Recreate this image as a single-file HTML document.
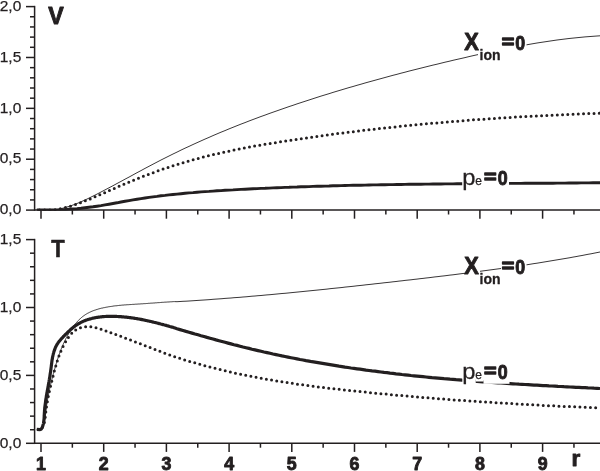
<!DOCTYPE html>
<html><head><meta charset="utf-8"><title>V and T versus r</title>
<style>
html,body{margin:0;padding:0;background:#fff;}
svg{display:block;}
text{font-family:"Liberation Sans",sans-serif;fill:#231f20;}
.b{font-weight:bold;stroke:#231f20;stroke-width:0.9px;stroke-linejoin:round;}
.r{stroke:#231f20;stroke-width:0.25px;}
</style></head><body>
<svg width="600" height="471" viewBox="0 0 600 471">
<rect width="600" height="471" fill="#fff"/>
<defs><clipPath id="ct"><rect x="34" y="0" width="566" height="210.85"/></clipPath></defs>
<g fill="none" stroke="#231f20" stroke-linejoin="round" clip-path="url(#ct)">
<path d="M36.8,210.0 L41.0,210.0 L45.0,210.0 L49.0,210.0 L53.0,210.0 L57.0,209.5 L61.0,208.7 L65.0,207.6 L69.0,206.4 L73.0,205.0 L77.0,203.5 L81.0,201.8 L85.0,200.0 L89.0,198.1 L93.0,196.1 L97.0,194.1 L101.0,192.0 L105.0,189.9 L109.0,187.8 L113.0,185.7 L117.0,183.5 L121.0,181.4 L125.0,179.2 L129.0,177.1 L133.0,174.9 L137.0,172.7 L141.0,170.6 L145.0,168.4 L149.0,166.3 L153.0,164.2 L157.0,162.1 L161.0,160.0 L165.0,158.0 L169.0,156.0 L173.0,154.0 L177.0,152.1 L181.0,150.1 L185.0,148.2 L189.0,146.4 L193.0,144.5 L197.0,142.7 L201.0,140.9 L205.0,139.1 L209.0,137.4 L213.0,135.6 L217.0,133.9 L221.0,132.2 L225.0,130.6 L229.0,128.9 L233.0,127.3 L237.0,125.7 L241.0,124.1 L245.0,122.6 L249.0,121.0 L253.0,119.5 L257.0,118.0 L261.0,116.5 L265.0,115.1 L269.0,113.6 L273.0,112.2 L277.0,110.8 L281.0,109.4 L285.0,108.0 L289.0,106.6 L293.0,105.3 L297.0,103.9 L301.0,102.6 L305.0,101.3 L309.0,100.0 L313.0,98.7 L317.0,97.4 L321.0,96.1 L325.0,94.9 L329.0,93.7 L333.0,92.4 L337.0,91.2 L341.0,90.0 L345.0,88.8 L349.0,87.6 L353.0,86.5 L357.0,85.3 L361.0,84.2 L365.0,83.0 L369.0,81.9 L373.0,80.8 L377.0,79.7 L381.0,78.6 L385.0,77.5 L389.0,76.4 L393.0,75.3 L397.0,74.3 L401.0,73.2 L405.0,72.2 L409.0,71.1 L413.0,70.1 L417.0,69.1 L421.0,68.1 L425.0,67.1 L429.0,66.1 L433.0,65.1 L437.0,64.2 L441.0,63.2 L445.0,62.2 L449.0,61.3 L453.0,60.3 L457.0,59.4 L461.0,58.5 L465.0,57.6 L469.0,56.6 L473.0,55.7 L477.0,54.8 L481.0,54.0 L485.0,53.1 L489.0,52.2 L493.0,51.4 L497.0,50.5 L501.0,49.7 L505.0,48.9 L509.0,48.1 L513.0,47.3 L517.0,46.6 L521.0,45.8 L525.0,45.1 L529.0,44.4 L533.0,43.7 L537.0,43.0 L541.0,42.4 L545.0,41.8 L549.0,41.2 L553.0,40.6 L557.0,40.0 L561.0,39.5 L565.0,39.0 L569.0,38.5 L573.0,38.1 L577.0,37.7 L581.0,37.3 L585.0,36.9 L589.0,36.6 L593.0,36.3 L597.0,36.0 L600.0,35.8" stroke-width="0.9"/>
<path d="M36.8,210.0 L41.0,209.9 L45.0,210.0 L49.0,210.0 L53.0,210.0 L57.0,209.9 L61.0,209.8 L65.0,209.6 L69.0,209.3 L73.0,209.0 L77.0,208.7 L81.0,208.3 L85.0,207.8 L89.0,207.3 L93.0,206.8 L97.0,206.2 L101.0,205.6 L105.0,204.9 L109.0,204.2 L113.0,203.5 L117.0,202.8 L121.0,202.0 L125.0,201.3 L129.0,200.6 L133.0,199.9 L137.0,199.2 L141.0,198.6 L145.0,198.0 L149.0,197.4 L153.0,196.9 L157.0,196.4 L161.0,195.8 L165.0,195.4 L169.0,194.9 L173.0,194.5 L177.0,194.1 L181.0,193.7 L185.0,193.3 L189.0,192.9 L193.0,192.6 L197.0,192.2 L201.0,191.9 L205.0,191.6 L209.0,191.4 L213.0,191.1 L217.0,190.8 L221.0,190.6 L225.0,190.3 L229.0,190.1 L233.0,189.9 L237.0,189.6 L241.0,189.4 L245.0,189.2 L249.0,189.0 L253.0,188.8 L257.0,188.6 L261.0,188.4 L265.0,188.3 L269.0,188.1 L273.0,187.9 L277.0,187.7 L281.0,187.6 L285.0,187.4 L289.0,187.3 L293.0,187.1 L297.0,187.0 L301.0,186.8 L305.0,186.7 L309.0,186.6 L313.0,186.4 L317.0,186.3 L321.0,186.2 L325.0,186.1 L329.0,186.0 L333.0,185.8 L337.0,185.7 L341.0,185.6 L345.0,185.5 L349.0,185.4 L353.0,185.3 L357.0,185.3 L361.0,185.2 L365.0,185.1 L369.0,185.0 L373.0,184.9 L377.0,184.9 L381.0,184.8 L385.0,184.7 L389.0,184.6 L393.0,184.6 L397.0,184.5 L401.0,184.5 L405.0,184.4 L409.0,184.3 L413.0,184.3 L417.0,184.2 L421.0,184.2 L425.0,184.1 L429.0,184.1 L433.0,184.0 L437.0,184.0 L441.0,184.0 L445.0,183.9 L449.0,183.9 L453.0,183.9 L457.0,183.8 L461.0,183.8 L465.0,183.7 L469.0,183.7 L473.0,183.7 L477.0,183.7 L481.0,183.6 L485.0,183.6 L489.0,183.6 L493.0,183.5 L497.0,183.5 L501.0,183.5 L505.0,183.5 L509.0,183.4 L513.0,183.4 L517.0,183.4 L521.0,183.4 L525.0,183.3 L529.0,183.3 L533.0,183.3 L537.0,183.3 L541.0,183.2 L545.0,183.2 L549.0,183.2 L553.0,183.2 L557.0,183.1 L561.0,183.1 L565.0,183.1 L569.0,183.0 L573.0,183.0 L577.0,183.0 L581.0,182.9 L585.0,182.9 L589.0,182.9 L593.0,182.8 L597.0,182.8 L600.0,182.8" stroke-width="2.9"/>
<path d="M36.8,210.0 L41.0,210.0 L45.0,210.0 L49.0,210.0 L53.0,210.0 L57.0,209.4 L61.0,208.6 L65.0,207.7 L69.0,206.6 L73.0,205.4 L77.0,204.0 L81.0,202.6 L85.0,201.0 L89.0,199.4 L93.0,197.7 L97.0,196.0 L101.0,194.2 L105.0,192.5 L109.0,190.7 L113.0,189.0 L117.0,187.3 L121.0,185.5 L125.0,183.8 L129.0,182.2 L133.0,180.5 L137.0,178.9 L141.0,177.3 L145.0,175.7 L149.0,174.2 L153.0,172.7 L157.0,171.2 L161.0,169.8 L165.0,168.4 L169.0,167.1 L173.0,165.8 L177.0,164.5 L181.0,163.3 L185.0,162.1 L189.0,160.9 L193.0,159.8 L197.0,158.7 L201.0,157.7 L205.0,156.7 L209.0,155.7 L213.0,154.7 L217.0,153.8 L221.0,152.9 L225.0,152.0 L229.0,151.1 L233.0,150.3 L237.0,149.5 L241.0,148.7 L245.0,147.9 L249.0,147.2 L253.0,146.4 L257.0,145.7 L261.0,145.0 L265.0,144.3 L269.0,143.7 L273.0,143.0 L277.0,142.4 L281.0,141.7 L285.0,141.1 L289.0,140.5 L293.0,139.9 L297.0,139.3 L301.0,138.7 L305.0,138.1 L309.0,137.5 L313.0,137.0 L317.0,136.4 L321.0,135.9 L325.0,135.3 L329.0,134.8 L333.0,134.2 L337.0,133.7 L341.0,133.2 L345.0,132.7 L349.0,132.2 L353.0,131.7 L357.0,131.2 L361.0,130.7 L365.0,130.2 L369.0,129.8 L373.0,129.3 L377.0,128.9 L381.0,128.4 L385.0,128.0 L389.0,127.5 L393.0,127.1 L397.0,126.7 L401.0,126.3 L405.0,125.9 L409.0,125.5 L413.0,125.1 L417.0,124.7 L421.0,124.3 L425.0,123.9 L429.0,123.6 L433.0,123.2 L437.0,122.9 L441.0,122.5 L445.0,122.2 L449.0,121.8 L453.0,121.5 L457.0,121.2 L461.0,120.9 L465.0,120.5 L469.0,120.2 L473.0,119.9 L477.0,119.6 L481.0,119.3 L485.0,119.1 L489.0,118.8 L493.0,118.5 L497.0,118.2 L501.0,118.0 L505.0,117.7 L509.0,117.5 L513.0,117.2 L517.0,117.0 L521.0,116.8 L525.0,116.5 L529.0,116.3 L533.0,116.1 L537.0,115.9 L541.0,115.7 L545.0,115.5 L549.0,115.3 L553.0,115.1 L557.0,114.9 L561.0,114.7 L565.0,114.6 L569.0,114.4 L573.0,114.2 L577.0,114.1 L581.0,113.9 L585.0,113.7 L589.0,113.6 L593.0,113.5 L597.0,113.3 L600.0,113.2" stroke-width="3" stroke-linecap="round" stroke-dasharray="0 5.25" stroke-dashoffset="-2.64"/>
</g>
<g fill="none" stroke="#231f20" stroke-linejoin="round">
<path d="M36.8,429.4 L40.4,429.8 L40.9,429.3 L41.3,428.7 L41.7,428.1 L42.1,427.5 L42.4,426.8 L42.8,426.2 L43.1,425.5 L43.3,424.9 L43.6,424.2 L43.8,423.5 L44.0,422.7 L44.2,422.0 L44.4,421.3 L44.5,420.5 L44.7,419.8 L44.8,419.0 L45.0,418.2 L45.1,417.4 L45.2,416.6 L45.3,415.9 L45.4,415.1 L45.5,414.3 L45.6,413.5 L45.7,412.7 L45.8,411.9 L45.9,411.1 L46.0,410.3 L46.1,409.5 L46.2,408.7 L46.3,407.9 L46.4,407.2 L46.5,406.4 L46.6,405.6 L46.7,404.8 L46.8,404.0 L47.0,403.3 L47.1,402.5 L47.2,401.7 L47.4,400.9 L47.5,400.1 L47.6,399.4 L47.8,398.6 L47.9,397.8 L48.0,397.1 L48.2,396.3 L48.3,395.5 L48.5,394.8 L48.6,394.0 L48.8,393.2 L48.9,392.5 L49.1,391.7 L49.2,390.9 L49.4,390.2 L49.6,389.4 L49.7,388.6 L49.9,387.9 L50.1,387.1 L50.2,386.4 L50.4,385.6 L50.6,384.8 L50.8,384.1 L50.9,383.3 L51.1,382.6 L51.3,381.8 L51.5,381.1 L51.7,380.3 L51.9,379.6 L52.1,378.8 L52.2,378.0 L52.4,377.3 L52.6,376.5 L52.8,375.8 L53.0,375.0 L53.2,374.3 L53.4,373.5 L53.6,372.8 L53.8,372.0 L54.0,371.3 L54.2,370.5 L54.5,369.8 L54.7,369.0 L54.9,368.3 L55.1,367.5 L55.3,366.8 L55.5,366.0 L55.7,365.3 L56.0,364.5 L56.2,363.8 L56.4,363.1 L56.6,362.3 L56.9,361.6 L57.1,360.8 L57.3,360.1 L57.6,359.3 L57.8,358.6 L58.0,357.9 L58.3,357.1 L58.5,356.4 L58.8,355.6 L59.0,354.9 L59.3,354.2 L59.6,353.4 L59.8,352.7 L60.1,352.0 L60.4,351.2 L60.6,350.5 L60.9,349.8 L61.2,349.1 L61.5,348.3 L61.8,347.6 L62.1,346.9 L62.4,346.2 L62.7,345.5 L63.0,344.8 L63.3,344.0 L63.6,343.3 L64.0,342.6 L64.3,341.9 L64.6,341.2 L65.0,340.5 L65.3,339.8 L65.7,339.1 L66.0,338.4 L66.4,337.7 L66.7,337.0 L67.1,336.3 L67.5,335.7 L67.9,335.0 L68.3,334.3 L68.6,333.6 L69.0,332.9 L69.5,332.3 L69.9,331.6 L70.3,330.9 L70.7,330.3 L71.1,329.6 L71.6,328.9 L72.0,328.3 L72.5,327.6 L72.9,327.0 L73.4,326.4 L73.9,325.7 L74.4,325.1 L74.8,324.5 L75.3,323.9 L75.8,323.3 L76.4,322.7 L76.9,322.1 L77.4,321.5 L77.9,320.9 L78.5,320.4 L79.0,319.8 L79.6,319.3 L80.1,318.8 L80.7,318.2 L81.3,317.7 L81.9,317.2 L82.5,316.7 L83.1,316.3 L83.7,315.8 L84.3,315.4 L85.0,314.9 L85.6,314.5 L86.3,314.1 L86.9,313.7 L87.6,313.3 L88.3,313.0 L89.0,312.6 L89.6,312.3 L90.3,312.0 L91.0,311.6 L91.8,311.3 L92.5,311.0 L93.2,310.7 L93.9,310.5 L94.7,310.2 L95.4,310.0 L96.1,309.7 L96.9,309.5 L97.6,309.3 L98.4,309.0 L99.1,308.8 L99.9,308.6 L100.7,308.4 L101.4,308.2 L102.2,308.1 L103.0,307.9 L103.7,307.7 L104.5,307.6 L105.3,307.4 L106.1,307.3 L106.8,307.1 L107.6,307.0 L108.4,306.8 L109.2,306.7 L109.9,306.6 L110.7,306.5 L111.5,306.4 L112.3,306.3 L113.0,306.1 L113.8,306.0 L114.6,305.9 L115.4,305.8 L116.1,305.8 L116.9,305.7 L117.7,305.6 L118.5,305.5 L119.2,305.4 L120.0,305.3 L120.8,305.3 L121.5,305.2 L122.3,305.1 L123.1,305.1 L123.9,305.0 L124.6,304.9 L125.4,304.9 L126.2,304.8 L127.0,304.8 L127.7,304.7 L128.5,304.7 L129.3,304.6 L130.1,304.6 L130.9,304.5 L131.6,304.5 L132.4,304.4 L133.2,304.4 L134.0,304.3 L134.7,304.3 L135.5,304.2 L136.3,304.2 L137.1,304.1 L137.8,304.1 L138.6,304.0 L139.4,304.0 L140.2,303.9 L140.9,303.9 L141.7,303.8 L142.5,303.8 L143.3,303.7 L144.1,303.7 L144.8,303.6 L145.6,303.6 L146.4,303.5 L147.2,303.5 L147.9,303.4 L148.7,303.3 L149.5,303.3 L150.3,303.2 L151.1,303.2 L151.8,303.1 L152.6,303.1 L153.4,303.0 L154.2,303.0 L155.0,302.9 L155.7,302.8 L156.5,302.8 L157.3,302.7 L158.1,302.7 L158.9,302.6 L159.6,302.6 L160.4,302.5 L161.2,302.4 L162.0,302.4 L162.7,302.3 L163.5,302.3 L164.3,302.2 L165.1,302.2 L165.9,302.1 L166.6,302.1 L167.4,302.0 L168.2,302.0 L169.0,301.9 L169.8,301.9 L170.5,301.8 L171.3,301.8 L172.1,301.7 L172.9,301.7 L173.7,301.6 L174.4,301.6 L177.0,301.7 L180.0,301.5 L183.0,301.3 L186.0,301.2 L189.0,301.0 L192.0,300.8 L195.0,300.6 L198.0,300.4 L201.0,300.2 L204.0,300.0 L207.0,299.8 L210.0,299.6 L213.0,299.3 L216.0,299.1 L219.0,298.9 L222.0,298.7 L225.0,298.4 L228.0,298.2 L231.0,298.0 L234.0,297.7 L237.0,297.5 L240.0,297.3 L243.0,297.0 L246.0,296.8 L249.0,296.5 L252.0,296.2 L255.0,296.0 L258.0,295.7 L261.0,295.5 L264.0,295.2 L267.0,294.9 L270.0,294.7 L273.0,294.4 L276.0,294.1 L279.0,293.8 L282.0,293.5 L285.0,293.3 L288.0,293.0 L291.0,292.7 L294.0,292.4 L297.0,292.1 L300.0,291.8 L303.0,291.5 L306.0,291.2 L309.0,290.9 L312.0,290.6 L315.0,290.3 L318.0,290.0 L321.0,289.7 L324.0,289.4 L327.0,289.1 L330.0,288.7 L333.0,288.4 L336.0,288.1 L339.0,287.8 L342.0,287.5 L345.0,287.1 L348.0,286.8 L351.0,286.5 L354.0,286.2 L357.0,285.8 L360.0,285.5 L363.0,285.2 L366.0,284.8 L369.0,284.5 L372.0,284.2 L375.0,283.8 L378.0,283.5 L381.0,283.2 L384.0,282.8 L387.0,282.5 L390.0,282.2 L393.0,281.8 L396.0,281.5 L399.0,281.1 L402.0,280.8 L405.0,280.4 L408.0,280.1 L411.0,279.8 L414.0,279.4 L417.0,279.1 L420.0,278.7 L423.0,278.4 L426.0,278.0 L429.0,277.7 L432.0,277.3 L435.0,276.9 L438.0,276.6 L441.0,276.2 L444.0,275.9 L447.0,275.5 L450.0,275.1 L453.0,274.8 L456.0,274.4 L459.0,274.0 L462.0,273.6 L465.0,273.3 L468.0,272.9 L471.0,272.5 L474.0,272.1 L477.0,271.7 L480.0,271.3 L483.0,270.9 L486.0,270.5 L489.0,270.1 L492.0,269.7 L495.0,269.3 L498.0,268.9 L501.0,268.5 L504.0,268.1 L507.0,267.6 L510.0,267.2 L513.0,266.8 L516.0,266.3 L519.0,265.9 L522.0,265.5 L525.0,265.0 L528.0,264.6 L531.0,264.1 L534.0,263.6 L537.0,263.2 L540.0,262.7 L543.0,262.2 L546.0,261.7 L549.0,261.2 L552.0,260.7 L555.0,260.2 L558.0,259.7 L561.0,259.2 L564.0,258.7 L567.0,258.2 L570.0,257.7 L573.0,257.1 L576.0,256.6 L579.0,256.0 L582.0,255.5 L585.0,254.9 L588.0,254.3 L591.0,253.8 L594.0,253.2 L597.0,252.6 L600.0,252.0" stroke-width="0.9"/>
<path d="M36.8,429.4 L40.1,429.6 L40.9,429.3 L41.4,428.8 L41.8,428.2 L42.2,427.6 L42.4,426.9 L42.7,426.2 L42.9,425.5 L43.1,424.8 L43.3,424.1 L43.5,423.3 L43.6,422.6 L43.7,421.8 L43.8,421.0 L43.9,420.3 L44.0,419.5 L44.1,418.7 L44.1,417.9 L44.2,417.1 L44.2,416.3 L44.2,415.5 L44.3,414.7 L44.3,413.9 L44.4,413.1 L44.4,412.3 L44.5,411.5 L44.5,410.7 L44.6,409.9 L44.7,409.1 L44.7,408.3 L44.8,407.5 L44.9,406.7 L45.0,406.0 L45.1,405.2 L45.2,404.4 L45.3,403.6 L45.4,402.9 L45.5,402.1 L45.6,401.3 L45.7,400.6 L45.8,399.8 L45.9,399.0 L46.1,398.3 L46.2,397.5 L46.3,396.8 L46.4,396.0 L46.5,395.2 L46.7,394.5 L46.8,393.7 L46.9,393.0 L47.1,392.2 L47.2,391.5 L47.3,390.7 L47.5,390.0 L47.6,389.2 L47.8,388.4 L47.9,387.7 L48.0,386.9 L48.2,386.2 L48.3,385.4 L48.4,384.7 L48.6,383.9 L48.7,383.1 L48.8,382.4 L49.0,381.6 L49.1,380.9 L49.2,380.1 L49.4,379.3 L49.5,378.6 L49.6,377.8 L49.8,377.0 L49.9,376.3 L50.0,375.5 L50.1,374.7 L50.2,373.9 L50.3,373.2 L50.5,372.4 L50.6,371.6 L50.7,370.8 L50.8,370.0 L50.9,369.2 L51.0,368.4 L51.1,367.6 L51.2,366.9 L51.3,366.1 L51.4,365.3 L51.5,364.5 L51.6,363.7 L51.7,362.9 L51.8,362.1 L51.9,361.3 L52.0,360.5 L52.1,359.7 L52.3,359.0 L52.4,358.2 L52.5,357.4 L52.7,356.6 L52.9,355.9 L53.0,355.1 L53.2,354.4 L53.4,353.6 L53.6,352.9 L53.8,352.1 L54.0,351.4 L54.3,350.7 L54.5,350.0 L54.8,349.3 L55.0,348.5 L55.3,347.9 L55.6,347.2 L55.9,346.5 L56.3,345.8 L56.6,345.2 L57.0,344.5 L57.4,343.9 L57.8,343.3 L58.2,342.6 L58.7,342.0 L59.1,341.4 L59.6,340.8 L60.1,340.3 L60.6,339.7 L61.1,339.1 L61.6,338.5 L62.2,338.0 L62.7,337.4 L63.2,336.8 L63.8,336.3 L64.3,335.7 L64.9,335.1 L65.5,334.6 L66.0,334.0 L66.6,333.5 L67.2,332.9 L67.7,332.3 L68.3,331.8 L68.9,331.2 L69.5,330.7 L70.1,330.1 L70.7,329.6 L71.3,329.1 L71.9,328.5 L72.5,328.0 L73.1,327.5 L73.7,327.0 L74.3,326.5 L75.0,326.1 L75.6,325.6 L76.3,325.2 L76.9,324.7 L77.6,324.3 L78.2,323.9 L78.9,323.5 L79.6,323.2 L80.2,322.8 L80.9,322.4 L81.6,322.1 L82.3,321.8 L83.0,321.4 L83.7,321.1 L84.4,320.8 L85.1,320.6 L85.8,320.3 L86.5,320.0 L87.3,319.8 L88.0,319.5 L88.7,319.3 L89.5,319.1 L90.2,318.9 L90.9,318.7 L91.7,318.5 L92.4,318.3 L93.2,318.1 L93.9,318.0 L94.7,317.8 L95.4,317.7 L96.2,317.5 L97.0,317.4 L97.7,317.3 L98.5,317.2 L99.3,317.1 L100.0,317.0 L100.8,316.9 L101.6,316.8 L102.4,316.7 L103.1,316.6 L103.9,316.6 L104.7,316.5 L105.5,316.5 L106.3,316.4 L107.1,316.4 L107.8,316.4 L108.6,316.4 L109.4,316.3 L110.2,316.3 L111.0,316.3 L111.8,316.3 L112.5,316.3 L113.3,316.4 L114.1,316.4 L114.9,316.4 L115.7,316.4 L116.5,316.4 L117.2,316.5 L118.0,316.5 L118.8,316.6 L119.6,316.6 L120.4,316.7 L121.1,316.7 L121.9,316.8 L122.7,316.8 L123.5,316.9 L124.2,317.0 L125.0,317.1 L125.8,317.1 L126.6,317.2 L127.3,317.3 L128.1,317.4 L128.9,317.5 L129.6,317.6 L130.4,317.7 L131.2,317.8 L132.0,317.9 L132.7,318.0 L133.5,318.1 L134.3,318.2 L135.0,318.4 L135.8,318.5 L136.6,318.6 L137.3,318.7 L138.1,318.9 L138.8,319.0 L139.6,319.1 L140.4,319.3 L141.1,319.4 L141.9,319.6 L142.7,319.7 L143.4,319.9 L144.2,320.0 L144.9,320.2 L145.7,320.4 L146.5,320.5 L147.2,320.7 L148.0,320.9 L148.7,321.0 L149.5,321.2 L150.3,321.4 L151.0,321.5 L151.8,321.7 L152.5,321.9 L153.3,322.1 L154.0,322.3 L154.8,322.5 L155.6,322.6 L156.3,322.8 L157.1,323.0 L157.8,323.2 L158.6,323.4 L159.3,323.6 L160.1,323.8 L160.8,324.0 L161.6,324.2 L162.3,324.4 L163.1,324.6 L163.8,324.8 L164.6,325.0 L165.3,325.2 L166.1,325.4 L166.8,325.6 L167.6,325.8 L168.3,326.1 L169.1,326.3 L169.8,326.5 L170.6,326.7 L171.3,326.9 L172.1,327.1 L172.8,327.3 L173.6,327.6 L174.3,327.8 L177.0,328.7 L180.0,329.6 L183.0,330.5 L186.0,331.4 L189.0,332.2 L192.0,333.1 L195.0,334.0 L198.0,334.8 L201.0,335.7 L204.0,336.5 L207.0,337.4 L210.0,338.2 L213.0,339.0 L216.0,339.9 L219.0,340.7 L222.0,341.5 L225.0,342.3 L228.0,343.1 L231.0,343.9 L234.0,344.7 L237.0,345.4 L240.0,346.2 L243.0,347.0 L246.0,347.7 L249.0,348.4 L252.0,349.2 L255.0,349.9 L258.0,350.6 L261.0,351.3 L264.0,352.0 L267.0,352.6 L270.0,353.3 L273.0,354.0 L276.0,354.6 L279.0,355.2 L282.0,355.9 L285.0,356.5 L288.0,357.1 L291.0,357.7 L294.0,358.3 L297.0,358.9 L300.0,359.5 L303.0,360.0 L306.0,360.6 L309.0,361.1 L312.0,361.7 L315.0,362.2 L318.0,362.7 L321.0,363.2 L324.0,363.7 L327.0,364.2 L330.0,364.7 L333.0,365.2 L336.0,365.7 L339.0,366.2 L342.0,366.6 L345.0,367.1 L348.0,367.5 L351.0,368.0 L354.0,368.4 L357.0,368.8 L360.0,369.2 L363.0,369.6 L366.0,370.1 L369.0,370.5 L372.0,370.9 L375.0,371.2 L378.0,371.6 L381.0,372.0 L384.0,372.4 L387.0,372.7 L390.0,373.1 L393.0,373.4 L396.0,373.8 L399.0,374.1 L402.0,374.5 L405.0,374.8 L408.0,375.1 L411.0,375.5 L414.0,375.8 L417.0,376.1 L420.0,376.4 L423.0,376.7 L426.0,377.0 L429.0,377.3 L432.0,377.6 L435.0,377.8 L438.0,378.1 L441.0,378.4 L444.0,378.7 L447.0,378.9 L450.0,379.2 L453.0,379.4 L456.0,379.7 L459.0,379.9 L462.0,380.2 L465.0,380.4 L468.0,380.7 L471.0,380.9 L474.0,381.1 L477.0,381.3 L480.0,381.6 L483.0,381.8 L486.0,382.0 L489.0,382.2 L492.0,382.4 L495.0,382.6 L498.0,382.8 L501.0,383.0 L504.0,383.2 L507.0,383.4 L510.0,383.6 L513.0,383.8 L516.0,384.0 L519.0,384.2 L522.0,384.3 L525.0,384.5 L528.0,384.7 L531.0,384.9 L534.0,385.1 L537.0,385.2 L540.0,385.4 L543.0,385.6 L546.0,385.7 L549.0,385.9 L552.0,386.0 L555.0,386.2 L558.0,386.4 L561.0,386.5 L564.0,386.7 L567.0,386.8 L570.0,387.0 L573.0,387.1 L576.0,387.3 L579.0,387.4 L582.0,387.6 L585.0,387.7 L588.0,387.9 L591.0,388.0 L594.0,388.2 L597.0,388.3 L600.0,388.5" stroke-width="3.2"/>
<path d="M36.8,429.4 L40.3,429.7 L40.8,429.3 L41.3,428.7 L41.8,428.2 L42.2,427.6 L42.5,427.0 L42.9,426.4 L43.2,425.7 L43.5,425.1 L43.7,424.4 L44.0,423.7 L44.2,423.0 L44.4,422.3 L44.6,421.5 L44.7,420.8 L44.9,420.0 L45.0,419.3 L45.1,418.5 L45.2,417.7 L45.3,417.0 L45.4,416.2 L45.5,415.4 L45.6,414.6 L45.7,413.8 L45.8,413.0 L45.8,412.2 L45.9,411.5 L46.0,410.7 L46.1,409.9 L46.2,409.1 L46.3,408.3 L46.4,407.6 L46.5,406.8 L46.7,406.0 L46.8,405.2 L46.9,404.5 L47.0,403.7 L47.1,402.9 L47.3,402.2 L47.4,401.4 L47.5,400.7 L47.7,399.9 L47.8,399.2 L47.9,398.4 L48.1,397.6 L48.2,396.9 L48.4,396.1 L48.5,395.4 L48.7,394.6 L48.9,393.9 L49.0,393.1 L49.2,392.4 L49.3,391.7 L49.5,390.9 L49.7,390.2 L49.8,389.4 L50.0,388.7 L50.2,387.9 L50.3,387.2 L50.5,386.5 L50.7,385.7 L50.9,385.0 L51.1,384.2 L51.2,383.5 L51.4,382.8 L51.6,382.0 L51.8,381.3 L52.0,380.5 L52.1,379.8 L52.3,379.0 L52.5,378.3 L52.7,377.6 L52.9,376.8 L53.1,376.1 L53.3,375.3 L53.5,374.6 L53.7,373.9 L53.8,373.1 L54.0,372.4 L54.2,371.6 L54.4,370.9 L54.6,370.1 L54.8,369.4 L55.0,368.7 L55.2,367.9 L55.4,367.2 L55.7,366.4 L55.9,365.7 L56.1,365.0 L56.3,364.2 L56.5,363.5 L56.7,362.8 L57.0,362.0 L57.2,361.3 L57.4,360.6 L57.7,359.8 L57.9,359.1 L58.2,358.4 L58.4,357.6 L58.7,356.9 L58.9,356.2 L59.2,355.5 L59.5,354.8 L59.7,354.0 L60.0,353.3 L60.3,352.6 L60.6,351.9 L60.9,351.2 L61.2,350.5 L61.5,349.8 L61.8,349.1 L62.1,348.4 L62.4,347.7 L62.8,347.0 L63.1,346.3 L63.5,345.6 L63.8,345.0 L64.2,344.3 L64.5,343.6 L64.9,342.9 L65.3,342.3 L65.7,341.6 L66.1,340.9 L66.5,340.3 L66.9,339.6 L67.3,339.0 L67.7,338.3 L68.2,337.7 L68.6,337.1 L69.1,336.4 L69.6,335.8 L70.0,335.2 L70.5,334.6 L71.0,334.0 L71.5,333.5 L72.1,332.9 L72.6,332.4 L73.2,331.9 L73.8,331.4 L74.3,330.9 L75.0,330.4 L75.6,330.0 L76.2,329.6 L76.9,329.2 L77.6,328.9 L78.3,328.6 L79.0,328.3 L79.7,328.0 L80.4,327.8 L81.2,327.6 L81.9,327.4 L82.7,327.2 L83.4,327.1 L84.2,326.9 L85.0,326.9 L85.8,326.8 L86.5,326.7 L87.3,326.7 L88.1,326.7 L88.8,326.7 L89.6,326.7 L90.3,326.8 L91.1,326.9 L91.9,327.0 L92.6,327.1 L93.4,327.2 L94.1,327.3 L94.8,327.5 L95.6,327.6 L96.3,327.8 L97.1,328.0 L97.8,328.2 L98.5,328.4 L99.3,328.6 L100.0,328.8 L100.7,329.0 L101.5,329.3 L102.2,329.5 L102.9,329.8 L103.7,330.0 L104.4,330.3 L105.1,330.6 L105.8,330.8 L106.6,331.1 L107.3,331.3 L108.0,331.6 L108.7,331.9 L109.5,332.1 L110.2,332.4 L110.9,332.7 L111.6,332.9 L112.3,333.2 L113.1,333.5 L113.8,333.7 L114.5,334.0 L115.2,334.3 L115.9,334.6 L116.7,334.8 L117.4,335.1 L118.1,335.4 L118.8,335.6 L119.5,335.9 L120.3,336.2 L121.0,336.4 L121.7,336.7 L122.4,337.0 L123.1,337.3 L123.8,337.5 L124.6,337.8 L125.3,338.1 L126.0,338.4 L126.7,338.6 L127.4,338.9 L128.1,339.2 L128.9,339.5 L129.6,339.7 L130.3,340.0 L131.0,340.3 L131.7,340.5 L132.4,340.8 L133.2,341.1 L133.9,341.4 L134.6,341.6 L135.3,341.9 L136.0,342.2 L136.7,342.5 L137.4,342.7 L138.2,343.0 L138.9,343.3 L139.6,343.6 L140.3,343.8 L141.0,344.1 L141.7,344.4 L142.5,344.7 L143.2,344.9 L143.9,345.2 L144.6,345.5 L145.3,345.8 L146.0,346.0 L146.7,346.3 L147.5,346.6 L148.2,346.9 L148.9,347.1 L149.6,347.4 L150.3,347.7 L151.0,348.0 L151.7,348.2 L152.5,348.5 L153.2,348.8 L153.9,349.0 L154.6,349.3 L155.3,349.6 L156.0,349.9 L156.8,350.1 L157.5,350.4 L158.2,350.7 L158.9,350.9 L159.6,351.2 L160.3,351.5 L161.1,351.7 L161.8,352.0 L162.5,352.3 L163.2,352.5 L163.9,352.8 L164.6,353.1 L165.4,353.3 L166.1,353.6 L166.8,353.9 L167.5,354.1 L168.2,354.4 L169.0,354.7 L169.7,354.9 L170.4,355.2 L171.1,355.4 L171.8,355.7 L172.6,356.0 L173.3,356.2 L174.0,356.5 L174.7,356.7 L177.0,357.4 L180.0,358.4 L183.0,359.4 L186.0,360.3 L189.0,361.2 L192.0,362.1 L195.0,362.9 L198.0,363.8 L201.0,364.6 L204.0,365.5 L207.0,366.3 L210.0,367.1 L213.0,367.8 L216.0,368.6 L219.0,369.3 L222.0,370.1 L225.0,370.8 L228.0,371.5 L231.0,372.1 L234.0,372.8 L237.0,373.5 L240.0,374.1 L243.0,374.7 L246.0,375.4 L249.0,376.0 L252.0,376.5 L255.0,377.1 L258.0,377.7 L261.0,378.2 L264.0,378.8 L267.0,379.3 L270.0,379.8 L273.0,380.3 L276.0,380.8 L279.0,381.3 L282.0,381.8 L285.0,382.3 L288.0,382.7 L291.0,383.2 L294.0,383.6 L297.0,384.1 L300.0,384.5 L303.0,384.9 L306.0,385.3 L309.0,385.7 L312.0,386.1 L315.0,386.5 L318.0,386.9 L321.0,387.2 L324.0,387.6 L327.0,388.0 L330.0,388.3 L333.0,388.7 L336.0,389.0 L339.0,389.3 L342.0,389.7 L345.0,390.0 L348.0,390.3 L351.0,390.6 L354.0,391.0 L357.0,391.3 L360.0,391.6 L363.0,391.9 L366.0,392.2 L369.0,392.5 L372.0,392.8 L375.0,393.1 L378.0,393.4 L381.0,393.7 L384.0,393.9 L387.0,394.2 L390.0,394.5 L393.0,394.8 L396.0,395.1 L399.0,395.3 L402.0,395.6 L405.0,395.9 L408.0,396.1 L411.0,396.4 L414.0,396.7 L417.0,396.9 L420.0,397.2 L423.0,397.4 L426.0,397.7 L429.0,397.9 L432.0,398.1 L435.0,398.4 L438.0,398.6 L441.0,398.8 L444.0,399.1 L447.0,399.3 L450.0,399.5 L453.0,399.8 L456.0,400.0 L459.0,400.2 L462.0,400.4 L465.0,400.6 L468.0,400.8 L471.0,401.0 L474.0,401.3 L477.0,401.5 L480.0,401.7 L483.0,401.9 L486.0,402.1 L489.0,402.2 L492.0,402.4 L495.0,402.6 L498.0,402.8 L501.0,403.0 L504.0,403.2 L507.0,403.4 L510.0,403.5 L513.0,403.7 L516.0,403.9 L519.0,404.1 L522.0,404.2 L525.0,404.4 L528.0,404.6 L531.0,404.7 L534.0,404.9 L537.0,405.0 L540.0,405.2 L543.0,405.4 L546.0,405.5 L549.0,405.7 L552.0,405.8 L555.0,405.9 L558.0,406.1 L561.0,406.2 L564.0,406.4 L567.0,406.5 L570.0,406.6 L573.0,406.8 L576.0,406.9 L579.0,407.0 L582.0,407.2 L585.0,407.3 L588.0,407.4 L591.0,407.5 L594.0,407.7 L597.0,407.8 L600.0,407.9" stroke-width="3" stroke-linecap="round" stroke-dasharray="0 5.25" stroke-dashoffset="-1.44"/>
</g>
<g fill="#fff">
<rect x="478" y="46" width="23.5" height="16"/>
<rect x="501" y="35" width="25.5" height="18"/>
<rect x="462.2" y="170" width="46.8" height="21"/>
<rect x="465" y="256" width="15" height="19"/>
<rect x="501" y="259" width="25.5" height="16"/>
<rect x="462.3" y="364" width="13.4" height="21"/>
<rect x="475.6" y="364" width="8" height="17.5"/>
<rect x="483.5" y="364" width="26" height="19.8"/>
</g>
<g stroke="#231f20" stroke-width="1.5" fill="none">
<line x1="34.6" y1="5.85" x2="34.6" y2="210.85"/>
<line x1="26" y1="6.60" x2="34.6" y2="6.60"/>
<line x1="30" y1="16.77" x2="34.6" y2="16.77"/>
<line x1="30" y1="26.95" x2="34.6" y2="26.95"/>
<line x1="30" y1="37.12" x2="34.6" y2="37.12"/>
<line x1="30" y1="47.30" x2="34.6" y2="47.30"/>
<line x1="26" y1="57.48" x2="34.6" y2="57.48"/>
<line x1="30" y1="67.65" x2="34.6" y2="67.65"/>
<line x1="30" y1="77.82" x2="34.6" y2="77.82"/>
<line x1="30" y1="88.00" x2="34.6" y2="88.00"/>
<line x1="30" y1="98.17" x2="34.6" y2="98.17"/>
<line x1="26" y1="108.35" x2="34.6" y2="108.35"/>
<line x1="30" y1="118.52" x2="34.6" y2="118.52"/>
<line x1="30" y1="128.70" x2="34.6" y2="128.70"/>
<line x1="30" y1="138.88" x2="34.6" y2="138.88"/>
<line x1="30" y1="149.05" x2="34.6" y2="149.05"/>
<line x1="26" y1="159.22" x2="34.6" y2="159.22"/>
<line x1="30" y1="169.40" x2="34.6" y2="169.40"/>
<line x1="30" y1="179.57" x2="34.6" y2="179.57"/>
<line x1="30" y1="189.75" x2="34.6" y2="189.75"/>
<line x1="30" y1="199.92" x2="34.6" y2="199.92"/>
<line x1="26" y1="210.10" x2="34.6" y2="210.10"/>
<line x1="34.6" y1="238.85" x2="34.6" y2="444.05"/>
<line x1="26" y1="239.60" x2="34.6" y2="239.60"/>
<line x1="30" y1="253.18" x2="34.6" y2="253.18"/>
<line x1="30" y1="266.76" x2="34.6" y2="266.76"/>
<line x1="30" y1="280.34" x2="34.6" y2="280.34"/>
<line x1="30" y1="293.92" x2="34.6" y2="293.92"/>
<line x1="26" y1="307.50" x2="34.6" y2="307.50"/>
<line x1="30" y1="321.08" x2="34.6" y2="321.08"/>
<line x1="30" y1="334.66" x2="34.6" y2="334.66"/>
<line x1="30" y1="348.24" x2="34.6" y2="348.24"/>
<line x1="30" y1="361.82" x2="34.6" y2="361.82"/>
<line x1="26" y1="375.40" x2="34.6" y2="375.40"/>
<line x1="30" y1="388.98" x2="34.6" y2="388.98"/>
<line x1="30" y1="402.56" x2="34.6" y2="402.56"/>
<line x1="30" y1="416.14" x2="34.6" y2="416.14"/>
<line x1="30" y1="429.72" x2="34.6" y2="429.72"/>
<line x1="26" y1="443.30" x2="34.6" y2="443.30"/>
<line x1="34.6" y1="210.1" x2="600" y2="210.1"/>
<line x1="41.00" y1="210.1" x2="41.00" y2="218.7"/>
<line x1="72.35" y1="210.1" x2="72.35" y2="214.5"/>
<line x1="103.70" y1="210.1" x2="103.70" y2="218.7"/>
<line x1="135.05" y1="210.1" x2="135.05" y2="214.5"/>
<line x1="166.40" y1="210.1" x2="166.40" y2="218.7"/>
<line x1="197.75" y1="210.1" x2="197.75" y2="214.5"/>
<line x1="229.10" y1="210.1" x2="229.10" y2="218.7"/>
<line x1="260.45" y1="210.1" x2="260.45" y2="214.5"/>
<line x1="291.80" y1="210.1" x2="291.80" y2="218.7"/>
<line x1="323.15" y1="210.1" x2="323.15" y2="214.5"/>
<line x1="354.50" y1="210.1" x2="354.50" y2="218.7"/>
<line x1="385.85" y1="210.1" x2="385.85" y2="214.5"/>
<line x1="417.20" y1="210.1" x2="417.20" y2="218.7"/>
<line x1="448.55" y1="210.1" x2="448.55" y2="214.5"/>
<line x1="479.90" y1="210.1" x2="479.90" y2="218.7"/>
<line x1="511.25" y1="210.1" x2="511.25" y2="214.5"/>
<line x1="542.60" y1="210.1" x2="542.60" y2="218.7"/>
<line x1="573.95" y1="210.1" x2="573.95" y2="214.5"/>
<line x1="34.6" y1="443.3" x2="600" y2="443.3"/>
<line x1="41.00" y1="443.3" x2="41.00" y2="451.90000000000003"/>
<line x1="72.35" y1="443.3" x2="72.35" y2="447.7"/>
<line x1="103.70" y1="443.3" x2="103.70" y2="451.90000000000003"/>
<line x1="135.05" y1="443.3" x2="135.05" y2="447.7"/>
<line x1="166.40" y1="443.3" x2="166.40" y2="451.90000000000003"/>
<line x1="197.75" y1="443.3" x2="197.75" y2="447.7"/>
<line x1="229.10" y1="443.3" x2="229.10" y2="451.90000000000003"/>
<line x1="260.45" y1="443.3" x2="260.45" y2="447.7"/>
<line x1="291.80" y1="443.3" x2="291.80" y2="451.90000000000003"/>
<line x1="323.15" y1="443.3" x2="323.15" y2="447.7"/>
<line x1="354.50" y1="443.3" x2="354.50" y2="451.90000000000003"/>
<line x1="385.85" y1="443.3" x2="385.85" y2="447.7"/>
<line x1="417.20" y1="443.3" x2="417.20" y2="451.90000000000003"/>
<line x1="448.55" y1="443.3" x2="448.55" y2="447.7"/>
<line x1="479.90" y1="443.3" x2="479.90" y2="451.90000000000003"/>
<line x1="511.25" y1="443.3" x2="511.25" y2="447.7"/>
<line x1="542.60" y1="443.3" x2="542.60" y2="451.90000000000003"/>
<line x1="573.95" y1="443.3" x2="573.95" y2="447.7"/>
</g>
<g font-size="15.5" class="r">
<text x="21.3" y="10.8" text-anchor="end">2,0</text>
<text x="21.3" y="61.7" text-anchor="end">1,5</text>
<text x="21.3" y="112.6" text-anchor="end">1,0</text>
<text x="21.3" y="163.4" text-anchor="end">0,5</text>
<text x="21.3" y="214.3" text-anchor="end">0,0</text>
<text x="21.3" y="243.8" text-anchor="end">1,5</text>
<text x="21.3" y="311.7" text-anchor="end">1,0</text>
<text x="21.3" y="379.6" text-anchor="end">0,5</text>
<text x="21.3" y="447.5" text-anchor="end">0,0</text>
</g>
<g font-size="17.8" class="b">
<text x="41.0" y="470.2" text-anchor="middle">1</text>
<text x="103.7" y="470.2" text-anchor="middle">2</text>
<text x="166.4" y="470.2" text-anchor="middle">3</text>
<text x="229.1" y="470.2" text-anchor="middle">4</text>
<text x="291.8" y="470.2" text-anchor="middle">5</text>
<text x="354.5" y="470.2" text-anchor="middle">6</text>
<text x="417.2" y="470.2" text-anchor="middle">7</text>
<text x="479.9" y="470.2" text-anchor="middle">8</text>
<text x="542.6" y="470.2" text-anchor="middle">9</text>
</g>
<g class="b">
<text x="571.4" y="466" font-size="22.5">r</text>
<text x="48.3" y="23.7" font-size="23.2">V</text>
<text transform="translate(51.2,256.7) scale(0.93,1)" font-size="23.6" style="stroke-width:0.6px">T</text>
<text transform="translate(464.3,49.8) scale(0.94,1)" font-size="23.2">X</text>
<text x="479.6" y="59.5" font-size="14" style="stroke-width:0.3px">ion</text>
<text transform="translate(501.7,47.8) scale(1.15,1)" font-size="18.6" style="stroke-width:1.3px">=</text>
<text transform="translate(515.3,49.9) scale(0.92,1)" font-size="19.4">0</text>
<text transform="translate(464.3,273.8) scale(0.94,1)" font-size="23.2">X</text>
<text x="479.6" y="283.5" font-size="14" style="stroke-width:0.3px">ion</text>
<text transform="translate(501.7,271.8) scale(1.15,1)" font-size="18.6" style="stroke-width:1.3px">=</text>
<text transform="translate(515.3,273.9) scale(0.92,1)" font-size="19.4">0</text>
<text transform="translate(484,182.6) scale(1.15,1)" font-size="18.6" style="stroke-width:1.3px">=</text>
<text transform="translate(497.7,184.9) scale(0.92,1)" font-size="19.4">0</text>
<text transform="translate(484,376.6) scale(1.15,1)" font-size="18.6" style="stroke-width:1.3px">=</text>
<text transform="translate(497.7,379) scale(0.92,1)" font-size="19.4">0</text>
</g>
<g class="r">
<text transform="translate(462.3,184.6) scale(1.08,1)" font-size="22">p</text>
<text x="475.3" y="185" font-size="12">e</text>
<text transform="translate(462.3,378.6) scale(1.08,1)" font-size="22">p</text>
<text x="475.3" y="379" font-size="12">e</text>
</g>
</svg>
</body></html>
